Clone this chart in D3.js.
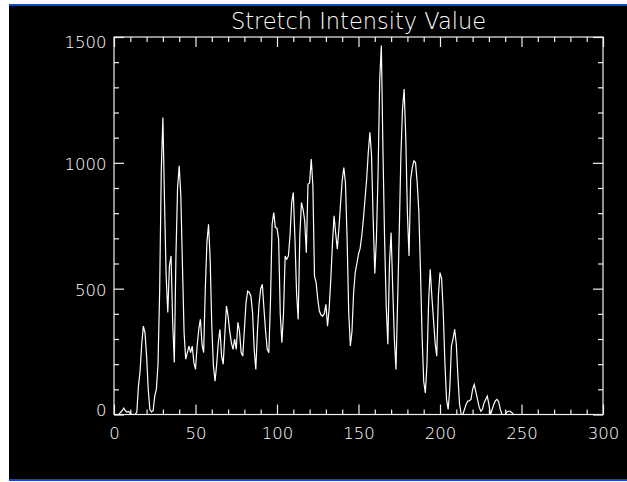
<!DOCTYPE html>
<html>
<head>
  <meta charset="utf-8">
  <script src="https://d3js.org/d3.v7.min.js"></script>
  <title>Stretch Intensity Value</title>
  <style>
    body, html {
      margin: 0;
      background: #ffffff;
    }
    svg text {
      font-family: 'DejaVu Sans', Verdana, sans-serif;
      font-weight: 200;
      fill: #ffffff;
    }
  </style>
</head>
<body>
  <svg></svg>
  <script>
    // Histogram counts, one per stretched intensity level (0..255)
    const counts = [
      0, 0, 0, 0, 8, 15, 25, 15, 10, 12,
      5, 0, 0, 0, 10, 113, 172, 279, 351, 325,
      232, 100, 20, 10, 15, 73, 100, 200, 485, 968,
      1180, 842, 550, 405, 590, 630, 366, 207, 630, 900,
      988, 869, 590, 325, 220, 246, 272, 246, 272, 207,
      179, 272, 338, 378, 279, 246, 497, 683, 756, 617,
      351, 192, 132, 200, 286, 338, 232, 200, 320, 431,
      390, 330, 286, 259, 300, 259, 366, 330, 246, 232,
      338, 445, 490, 485, 470, 405, 259, 179, 330, 440,
      500, 517, 420, 330, 260, 245, 450, 756, 802, 743,
      740, 696, 400, 285, 400, 630, 617, 630, 712, 842,
      882, 700, 484, 378, 712, 842, 815, 770, 643, 915,
      920, 1015, 910, 550, 524, 458, 411, 395, 391, 400,
      438, 351, 420, 537, 676, 790, 720, 657, 740, 840,
      930, 981, 920, 700, 405, 272, 330, 484, 564, 600,
      637, 660, 710, 776, 856, 935, 1041, 1121, 1028, 776,
      560, 700, 955, 1326, 1466, 1050, 700, 431, 279, 600,
      723, 500, 300, 179, 450, 723, 1028, 1214, 1293, 1100,
      800, 630, 935, 981, 1008, 1000, 922, 809, 577, 312,
      132, 86, 199, 444, 577, 470, 378, 285, 232, 471,
      564, 540, 405, 207, 60, 20, 100, 272, 300, 338,
      280, 150, 40, 0, 0, 20, 40, 53, 55, 60,
      100, 119, 90, 60, 30, 13, 20, 45, 60, 73,
      40, 0, 20, 40, 55, 60, 50, 20, 0, 0,
      0, 10, 13, 13, 8, 0, 0, 0, 0, 0,
      0, 0, 0, 0, 0, 0
    ];

    // Axis ticks
    const xMajor = [0, 50, 100, 150, 200, 250, 300];
    const xMinor = [10, 20, 30, 40, 60, 70, 80, 90, 110, 120, 130, 140, 160, 170, 180, 190, 210, 220, 230, 240, 260, 270, 280, 290];
    const yMajor = [0, 500, 1000, 1500];
    const yMinor = [100, 200, 300, 400, 600, 700, 800, 900, 1100, 1200, 1300, 1400];
    const title = "Stretch Intensity Value";

    // Chart dimensions
    const width = 627;
    const height = 482;
    const marginTop = 37;
    const marginRight = 24;
    const marginBottom = 67.5;
    const marginLeft = 114;
    const fg = "#f0f0f0";

    const svg = d3.select("svg")
      .attr("width", width)
      .attr("height", height)
      .attr("viewBox", [0, 0, width, height])
      .style("display", "block");

    // black window with blue edges
    svg.append("rect")
      .attr("x", 9).attr("y", 4)
      .attr("width", width - 9).attr("height", 477)
      .attr("fill", "#1448c8");
    svg.append("rect")
      .attr("x", 9).attr("y", 6)
      .attr("width", width - 9).attr("height", 473)
      .attr("fill", "#000000");

    const x = d3.scaleLinear()
      .domain([0, 300])
      .range([marginLeft, width - marginRight]);

    const y = d3.scaleLinear()
      .domain([0, 1500])
      .range([height - marginBottom, marginTop]);

    // plot box
    svg.append("rect")
      .attr("x", x(0)).attr("y", y(1500))
      .attr("width", x(300) - x(0)).attr("height", y(0) - y(1500))
      .attr("fill", "none")
      .attr("stroke", fg)
      .attr("stroke-width", 1.2);

    // ticks pointing inward on all four sides
    function ticks(axis, pos, values, size, labels) {
      const g = svg.append("g")
        .attr("transform", pos)
        .call(axis.tickValues(values).tickSizeInner(-size).tickSizeOuter(0)
          .tickPadding(labels ? labels : 3)
          .tickFormat(labels ? d3.format("d") : ""))
        .call(g => g.select(".domain").remove());
      g.selectAll("line").attr("stroke", fg).attr("stroke-width", 1.2);
      g.selectAll("text").attr("fill", "#ffffff").style("font-size", "16.5px");
      g.attr("fill", null).attr("font-family", null).attr("font-size", null);
      return g;
    }

    ticks(d3.axisBottom(x), `translate(0,${y(0)})`, xMajor, 10, 13);
    ticks(d3.axisBottom(x), `translate(0,${y(0)})`, xMinor, 5);
    ticks(d3.axisTop(x), `translate(0,${y(1500)})`, xMajor, 10);
    ticks(d3.axisTop(x), `translate(0,${y(1500)})`, xMinor, 5);

    const left = ticks(d3.axisLeft(y), `translate(${x(0)},0)`, yMajor, 10, 7.5);
    // keep end labels inside the axis range
    left.selectAll("text")
      .attr("y", d => d === 0 ? -4 : d === 1500 ? 5.5 : 1.5);
    ticks(d3.axisLeft(y), `translate(${x(0)},0)`, yMinor, 5);
    ticks(d3.axisRight(y), `translate(${x(300)},0)`, yMajor, 10);
    ticks(d3.axisRight(y), `translate(${x(300)},0)`, yMinor, 5);

    // histogram line
    const line = d3.line()
      .x((d, i) => x(i))
      .y(d => y(d));

    svg.append("path")
      .datum(counts)
      .attr("fill", "none")
      .attr("stroke", "#ffffff")
      .attr("stroke-width", 1.2)
      .attr("d", line);

    svg.append("text")
      .attr("x", (x(0) + x(300)) / 2)
      .attr("y", 28.5)
      .attr("text-anchor", "middle")
      .style("font-size", "22.5px")
      .text(title);
  </script>
</body>
</html>
